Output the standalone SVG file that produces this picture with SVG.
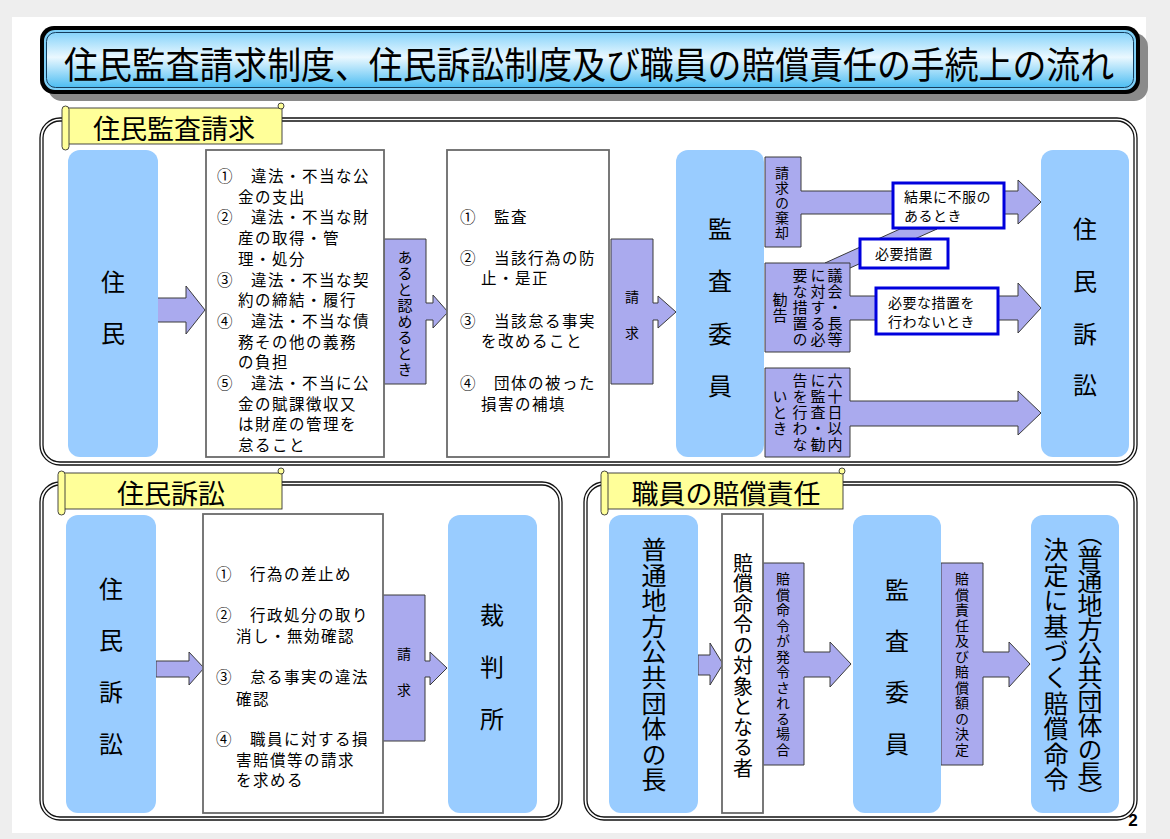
<svg xmlns="http://www.w3.org/2000/svg" width="1170" height="839" viewBox="0 0 1170 839">
<defs>
<linearGradient id="tg" x1="0" y1="0" x2="0" y2="1">
<stop offset="0" stop-color="#86d3fa"/>
<stop offset="0.45" stop-color="#eaf8ff"/>
<stop offset="1" stop-color="#4dbdf2"/>
</linearGradient>
<style>
text{font-family:"Noto Sans CJK JP","Noto Sans CJK SC",sans-serif;fill:#000}
.blue{fill:#99ccff}
.lav{fill:#aaaaee;stroke:#3a3a3a;stroke-width:1}
.wbox{fill:#fff;stroke:#6a6a6a;stroke-width:1.8}
.cbox{fill:#fff;stroke:#0000dd;stroke-width:3}
.frame{fill:none;stroke:#111;stroke-width:1.3}
.tab{fill:#ffff99;stroke:#333;stroke-width:0.9}
.lt{font-size:15.5px;letter-spacing:1.5px;dominant-baseline:central}
.ct{font-size:14px;letter-spacing:0.5px;dominant-baseline:central}
.big{font-size:24px;text-anchor:middle;dominant-baseline:central}
.tabt{font-size:27px;text-anchor:middle;dominant-baseline:central}
.vt{writing-mode:vertical-rl;text-anchor:middle}
.v14{font-size:14px}
.v15{font-size:15px;letter-spacing:1px}
</style>
</defs>
<rect x="0" y="0" width="1170" height="839" fill="#eeeeee"/>
<rect x="12" y="17" width="1134" height="816" fill="#ffffff"/>

<g id="title">
<rect x="48" y="33" width="1100" height="68" rx="14" fill="#8a8a8a"/>
<rect x="40" y="26" width="1100" height="68" rx="14" fill="#000"/>
<rect x="44" y="30" width="1092" height="60" rx="11" fill="#7fd0f8"/>
<rect x="46.5" y="32.5" width="1087" height="55" rx="9" fill="url(#tg)" stroke="#153c5c" stroke-width="1"/>
<text transform="translate(589,63) scale(1,1.1)" x="0" y="0" font-size="34" text-anchor="middle" dominant-baseline="central" textLength="1050" lengthAdjust="spacingAndGlyphs">住民監査請求制度、住民訴訟制度及び職員の賠償責任の手続上の流れ</text>
</g>

<g id="frames">
<rect class="frame" x="40" y="118" width="1097" height="347" rx="20" fill="#fff"/>
<rect class="frame" x="43" y="121" width="1091" height="341" rx="17"/>
<rect class="frame" x="40" y="482" width="522" height="338" rx="20"/>
<rect class="frame" x="43" y="485" width="516" height="332" rx="17"/>
<rect class="frame" x="584" y="482" width="553" height="338" rx="20"/>
<rect class="frame" x="587" y="485" width="547" height="332" rx="17"/>
</g>

<g id="tab-1">
<rect class="tab" x="66" y="108" width="216" height="36"/>
<rect class="tab" x="62" y="106" width="7" height="44" rx="3.5"/>
<circle class="tab" cx="281" cy="106" r="3"/>
<text class="tabt" x="174" y="127">住民監査請求</text>
</g>
<g id="tab-2">
<rect class="tab" x="62" y="473" width="220" height="36"/>
<rect class="tab" x="58" y="471" width="7" height="44" rx="3.5"/>
<circle class="tab" cx="281" cy="471" r="3"/>
<text class="tabt" x="171" y="492">住民訴訟</text>
</g>
<g id="tab-3">
<rect class="tab" x="605" y="473" width="238" height="36"/>
<rect class="tab" x="601" y="471" width="7" height="44" rx="3.5"/>
<circle class="tab" cx="842" cy="471" r="3"/>
<text class="tabt" x="726" y="492">職員の賠償責任</text>
</g>

<g id="connectors">
<polygon class="lav" points="156,298 186,298 186,286 205,310 186,334 186,322 156,322"/>
<polygon class="lav" points="384,239 426,239 426,303 433,303 433,295 448,312 433,328 433,320 426,320 426,384 384,384"/>
<polygon class="lav" points="611,239 653,239 653,303 658,303 658,296 676,312 658,328 658,320 653,320 653,384 611,384"/>
<polygon class="lav" points="765,157 801,157 801,191 1018,191 1018,180 1041,202 1018,224 1018,214 801,214 801,247 765,247"/>
<polygon class="lav" points="825,263 900,229 937,229 850,268"/>
<polygon class="lav" points="765,263 850,263 850,296 1018,296 1018,283 1041,308 1018,333 1018,320 850,320 850,352 765,352"/>
<polygon class="lav" points="765,368 850,368 850,401 1018,401 1018,391 1041,413 1018,435 1018,426 850,426 850,457 765,457"/>
<polygon class="lav" points="156,661 189,661 189,652 204,668 189,685 189,677 156,677"/>
<polygon class="lav" points="382,595 425,595 425,661 430,661 430,652 447,668 430,685 430,677 425,677 425,741 382,741"/>
<polygon class="lav" points="698,655 710,655 710,643 723,664 710,685 710,675 698,675"/>
<polygon class="lav" points="763,563 804,563 804,652 830,652 830,642 851,664 830,687 830,677 804,677 804,765 763,765"/>
<polygon class="lav" points="941,563 983,563 983,652 1009,652 1009,642 1030,664 1009,687 1009,677 983,677 983,765 941,765"/>
</g>

<g id="n-jumin">
<rect class="blue" x="68" y="150" width="90" height="307" rx="12"/>
<text class="big" x="113"><tspan x="113" y="280">住</tspan><tspan x="113" y="331">民</tspan></text>
</g>
<g id="n-gaitou">
<rect class="wbox" x="206" y="150" width="178" height="307"/>
<text class="lt" x="217" y="175">①　違法・不当な公</text>
<text class="lt" x="238" y="195.7">金の支出</text>
<text class="lt" x="217" y="216.4">②　違法・不当な財</text>
<text class="lt" x="238" y="237.1">産の取得・管</text>
<text class="lt" x="238" y="257.8">理・処分</text>
<text class="lt" x="217" y="278.5">③　違法・不当な契</text>
<text class="lt" x="238" y="299.2">約の締結・履行</text>
<text class="lt" x="217" y="319.9">④　違法・不当な債</text>
<text class="lt" x="238" y="340.6">務その他の義務</text>
<text class="lt" x="238" y="361.3">の負担</text>
<text class="lt" x="217" y="382">⑤　違法・不当に公</text>
<text class="lt" x="238" y="402.7">金の賦課徴収又</text>
<text class="lt" x="238" y="423.4">は財産の管理を</text>
<text class="lt" x="238" y="444.1">怠ること</text>
</g>
<g id="l-aru">
<text class="vt v15" x="405" y="314">あると認めるとき</text>
</g>
<g id="n-sochi">
<rect class="wbox" x="447" y="150" width="162" height="307"/>
<text class="lt" x="460" y="216">①　監査</text>
<text class="lt" x="460" y="257">②　当該行為の防</text>
<text class="lt" x="481" y="277">止・是正</text>
<text class="lt" x="460" y="320">③　当該怠る事実</text>
<text class="lt" x="481" y="340">を改めること</text>
<text class="lt" x="460" y="382">④　団体の被った</text>
<text class="lt" x="481" y="403">損害の補填</text>
</g>
<g id="l-seikyu1">
<text class="v14" x="632" text-anchor="middle" dominant-baseline="central"><tspan x="632" y="296">請</tspan><tspan x="632" y="332">求</tspan></text>
</g>
<g id="n-kansa1">
<rect class="blue" x="676" y="150" width="88" height="307" rx="12"/>
<text class="big" x="720"><tspan x="720" y="227">監</tspan><tspan x="720" y="279">査</tspan><tspan x="720" y="332">委</tspan><tspan x="720" y="384">員</tspan></text>
</g>
<g id="l-kikyaku">
<text class="vt v14" x="782" y="203" style="letter-spacing:1px">請求の棄却</text>
</g>
<g id="l-kankoku">
<text class="vt v15" x="835" y="308">議会・長等</text>
<text class="vt v15" x="818" y="308">に対する必</text>
<text class="vt v15" x="800" y="308">要な措置の</text>
<text class="vt v15" x="780" y="308">勧告</text>
</g>
<g id="l-rokujuu">
<text class="vt v15" x="835" y="413">六十日以内</text>
<text class="vt v15" x="818" y="413">に監査・勧</text>
<text class="vt v15" x="800" y="413">告を行わな</text>
<text class="vt v15" x="780" y="413">いとき</text>
</g>
<g id="c-fufuku">
<rect class="cbox" x="893" y="183" width="111" height="45"/>
<text class="ct" x="904" y="196">結果に不服の</text>
<text class="ct" x="904" y="215">あるとき</text>
</g>
<g id="c-hitsuyo">
<rect class="cbox" x="860" y="239" width="88" height="29"/>
<text class="ct" x="904" y="253" text-anchor="middle">必要措置</text>
</g>
<g id="c-okonawanai">
<rect class="cbox" x="876" y="288" width="122" height="46"/>
<text class="ct" x="888" y="302">必要な措置を</text>
<text class="ct" x="888" y="321">行わないとき</text>
</g>
<g id="n-soshou1">
<rect class="blue" x="1041" y="150" width="88" height="307" rx="12"/>
<text class="big" x="1085"><tspan x="1085" y="227">住</tspan><tspan x="1085" y="279">民</tspan><tspan x="1085" y="332">訴</tspan><tspan x="1085" y="383">訟</tspan></text>
</g>

<g id="n-jumin2">
<rect class="blue" x="66" y="515" width="90" height="298" rx="12"/>
<text class="big" x="111"><tspan x="111" y="587">住</tspan><tspan x="111" y="638">民</tspan><tspan x="111" y="690">訴</tspan><tspan x="111" y="742">訟</tspan></text>
</g>
<g id="n-seikyu-naiyou">
<rect class="wbox" x="203" y="514" width="180" height="299"/>
<text class="lt" x="216" y="573">①　行為の差止め</text>
<text class="lt" x="216" y="614">②　行政処分の取り</text>
<text class="lt" x="236" y="635">消し・無効確認</text>
<text class="lt" x="216" y="676">③　怠る事実の違法</text>
<text class="lt" x="236" y="698">確認</text>
<text class="lt" x="216" y="738">④　職員に対する損</text>
<text class="lt" x="236" y="759">害賠償等の請求</text>
<text class="lt" x="236" y="779">を求める</text>
</g>
<g id="l-seikyu2">
<text class="v14" x="404" text-anchor="middle" dominant-baseline="central"><tspan x="404" y="653">請</tspan><tspan x="404" y="689">求</tspan></text>
</g>
<g id="n-saibansho">
<rect class="blue" x="448" y="515" width="89" height="298" rx="12"/>
<text class="big" x="492"><tspan x="492" y="613">裁</tspan><tspan x="492" y="665">判</tspan><tspan x="492" y="717">所</tspan></text>
</g>

<g id="n-chou">
<rect class="blue" x="609" y="515" width="89" height="298" rx="12"/>
<text class="vt" x="654" y="665" font-size="25" style="letter-spacing:0.6px">普通地方公共団体の長</text>
</g>
<g id="n-taishou">
<rect class="wbox" x="722" y="514" width="41" height="299"/>
<text class="vt" x="743" y="666" font-size="20" style="letter-spacing:0.5px">賠償命令の対象となる者</text>
</g>
<g id="l-hatsurei">
<text class="vt" x="783" y="665" font-size="14" style="letter-spacing:1.5px">賠償命令が発令される場合</text>
</g>
<g id="n-kansa2">
<rect class="blue" x="853" y="515" width="88" height="298" rx="12"/>
<text class="big" x="897"><tspan x="897" y="588">監</tspan><tspan x="897" y="639">査</tspan><tspan x="897" y="690">委</tspan><tspan x="897" y="742">員</tspan></text>
</g>
<g id="l-kettei">
<text class="vt" x="962" y="665" font-size="14" style="letter-spacing:1.5px">賠償責任及び賠償額の決定</text>
</g>
<g id="n-meirei">
<rect class="blue" x="1031" y="515" width="88" height="298" rx="12"/>
<text class="vt" x="1090" y="665" font-size="25" style="letter-spacing:-1px">（普通地方公共団体の長）</text>
<text class="vt" x="1056" y="665" font-size="25" style="letter-spacing:0.6px">決定に基づく賠償命令</text>
</g>

<text x="1133" y="820" font-size="17" font-weight="bold" text-anchor="middle" dominant-baseline="central" style="font-family:'Liberation Sans',sans-serif">2</text>
</svg>
